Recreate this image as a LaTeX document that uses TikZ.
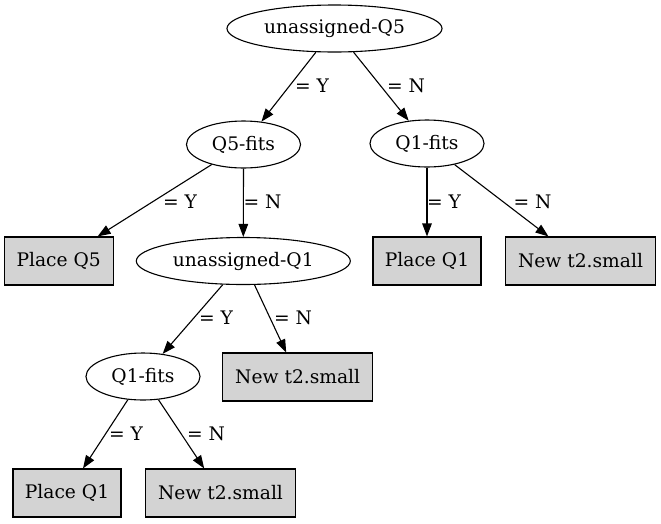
\documentclass[tikz,border=0pt]{standalone}
\usepackage{fontspec}
\setmainfont{DejaVu Serif}
\usetikzlibrary{shapes.geometric,arrows.meta}
\definecolor{boxgray}{RGB}{211,211,211}
\begin{document}
\begin{tikzpicture}[x=1pt,y=-1pt,
  every node/.style={font=\fontsize{18.67pt}{22pt}\selectfont},
  decision/.style={draw=black, line width=1.1pt, ellipse, inner sep=0pt, minimum height=47pt},
  leafbox/.style={draw=black, line width=1.1pt, fill=boxgray, rectangle, inner sep=0pt, minimum height=48pt},
  edgelbl/.style={inner sep=0pt},
  link/.style={draw=black, line width=1.1pt, -{Triangle[length=13pt,width=9.5pt]}}]
\useasboundingbox (0,0) rectangle (661,523);
% nodes
\node[decision, minimum width=215pt] (u5) at (334.5,28.5) {unassigned-Q5};
\node[decision, minimum width=114pt] (q5f) at (243.5,144.5) {Q5-fits};
\node[decision, minimum width=114pt] (q1fr) at (427,143.5) {Q1-fits};
\node[leafbox, minimum width=109pt] (p5) at (58.7,261) {Place Q5};
\node[decision, minimum width=214pt] (u1) at (243.3,261) {unassigned-Q1};
\node[leafbox, minimum width=108pt] (p1r) at (427,261) {Place Q1};
\node[leafbox, minimum width=150pt] (ntr) at (580.5,261) {New t2.small};
\node[decision, minimum width=114pt] (q1fl) at (143,376.5) {Q1-fits};
\node[leafbox, minimum width=150pt] (ntm) at (297.7,377) {New t2.small};
\node[leafbox, minimum width=108pt] (p1l) at (67,493) {Place Q1};
\node[leafbox, minimum width=150pt] (ntl) at (220.5,493) {New t2.small};
% edges
\draw[link] (u5) -- (q5f);
\draw[link] (u5) -- (q1fr);
\draw[link] (q5f) -- (p5);
\draw[link] (q5f.south) -- (u1.north);
\draw[link] (q1fr.south) -- (p1r.north);
\draw[link] (q1fr) -- (ntr);
\draw[link] (u1) -- (q1fl);
\draw[link] (u1) -- (ntm);
\draw[link] (q1fl) -- (p1l);
\draw[link] (q1fl) -- (ntl);
% edge labels
\node[edgelbl] (l1) at (312,86) {= Y};
\node[edgelbl] (l2) at (406,86) {= N};
\node[edgelbl] (l3) at (180,201.5) {= Y};
\node[edgelbl] (l4) at (262.5,201.5) {= N};
\node[edgelbl] (l5) at (444,201.5) {= Y};
\node[edgelbl] (l6) at (532.5,201.5) {= N};
\node[edgelbl] (l7) at (216,318) {= Y};
\node[edgelbl] (l8) at (293,318) {= N};
\node[edgelbl] (l9) at (126,434) {= Y};
\node[edgelbl] (l10) at (206,434) {= N};
\end{tikzpicture}
\end{document}
